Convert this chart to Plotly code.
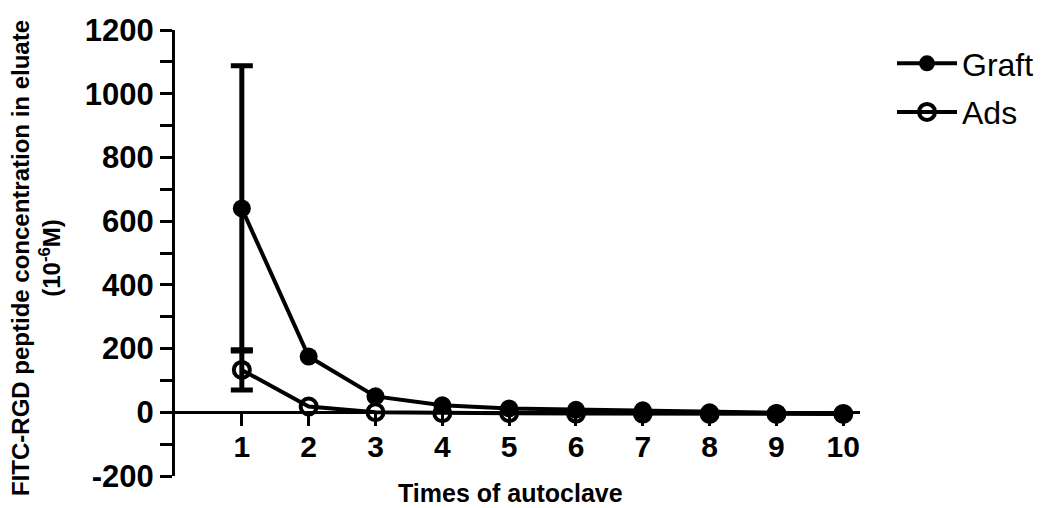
import plotly.graph_objects as go

times = [1, 2, 3, 4, 5, 6, 7, 8, 9, 10]
graft = [640, 175, 50, 22, 12, 8, 6, 0, -3, -5]
ads = [133, 18, 0, -3, -3, -4, -4, -5, -5, -5]
err_x = [1]
graft_err_y = [640]
graft_err = [448]
ads_err_y = [133]
ads_err = [63]
y_ticks = [-200, 0, 200, 400, 600, 800, 1000, 1200]
x_ticks = times

FONT = "Arial, Liberation Sans, sans-serif"

fig = go.Figure()
# error bars (only where the reference shows them)
fig.add_trace(go.Scatter(
    x=err_x, y=ads_err_y, mode="markers", showlegend=False, hoverinfo="skip",
    marker=dict(size=1, color="rgba(0,0,0,0)"),
    error_y=dict(type="data", array=ads_err, visible=True, color="black", thickness=5, width=11),
))
fig.add_trace(go.Scatter(
    x=err_x, y=graft_err_y, mode="markers", showlegend=False, hoverinfo="skip",
    marker=dict(size=1, color="rgba(0,0,0,0)"),
    error_y=dict(type="data", array=graft_err, visible=True, color="black", thickness=5, width=11),
))
fig.add_trace(go.Scatter(
    x=times, y=ads, name="Ads", mode="lines+markers", legendgroup="b", legendrank=2,
    line=dict(color="black", width=4),
    marker=dict(symbol="circle-open", size=16, color="black", line=dict(width=4, color="black")),
))
fig.add_trace(go.Scatter(
    x=times, y=graft, name="Graft", mode="lines+markers", legendgroup="a", legendrank=1,
    line=dict(color="black", width=4),
    marker=dict(symbol="circle", size=18, color="black"),
))

# figure is placed 8px in from the page corner, so coordinates are page - 8
L, T = 167, 22
W, H = 685, 446
R = 1055 - L - W
B = 508 - T - H
zero_frac = 200 / 1400

def px(xp):
    return (xp - 8 - L) / W

def py(yp):
    return (T + H - (yp - 8)) / H

fig.update_layout(
    width=1055, height=508,
    margin=dict(l=L, r=R, t=T, b=B, autoexpand=False),
    paper_bgcolor="white", plot_bgcolor="white",
    font=dict(family=FONT, color="black"),
    showlegend=True,
    legend=dict(x=px(892), y=py(36), xanchor="left", yanchor="top",
                font=dict(size=32, family=FONT, color="black"),
                tracegroupgap=4, itemwidth=60, traceorder="grouped",
                bgcolor="rgba(0,0,0,0)"),
    xaxis=dict(range=[0, 10.25], tickvals=x_ticks, ticktext=[str(v) for v in x_ticks],
               showgrid=False, zeroline=False, showline=True, linecolor="black", linewidth=3,
               ticks="outside", ticklen=12, tickwidth=3, tickcolor="black",
               anchor="free", position=zero_frac, automargin=False, ticklabelstandoff=-5,
               tickfont=dict(size=30, family=FONT, color="black", weight="bold")),
    yaxis=dict(range=[-200, 1200], tickvals=y_ticks, ticktext=[str(v) for v in y_ticks],
               showgrid=False, zeroline=False, showline=True, linecolor="black", linewidth=3,
               ticks="outside", ticklen=12, tickwidth=3, tickcolor="black", automargin=False,
               minor=dict(dtick=100, tick0=0, ticks="outside", ticklen=12, tickwidth=3, tickcolor="black", showgrid=False),
               tickfont=dict(size=31, family=FONT, color="black", weight="bold")),
    annotations=[
        dict(text="<b>Times of autoclave</b>", xref="paper", yref="paper",
             x=px(510), y=py(493), xanchor="center", yanchor="middle",
             showarrow=False, font=dict(size=25, family=FONT, color="black")),
        dict(text="<b>FITC-RGD peptide concentration in eluate<br>(10<sup>-6</sup>M)</b>",
             xref="paper", yref="paper", x=px(36), y=py(258),
             xanchor="center", yanchor="middle", textangle=-90, showarrow=False,
             font=dict(size=24, family=FONT, color="black")),
    ],
)

fig.write_html("out.html")
